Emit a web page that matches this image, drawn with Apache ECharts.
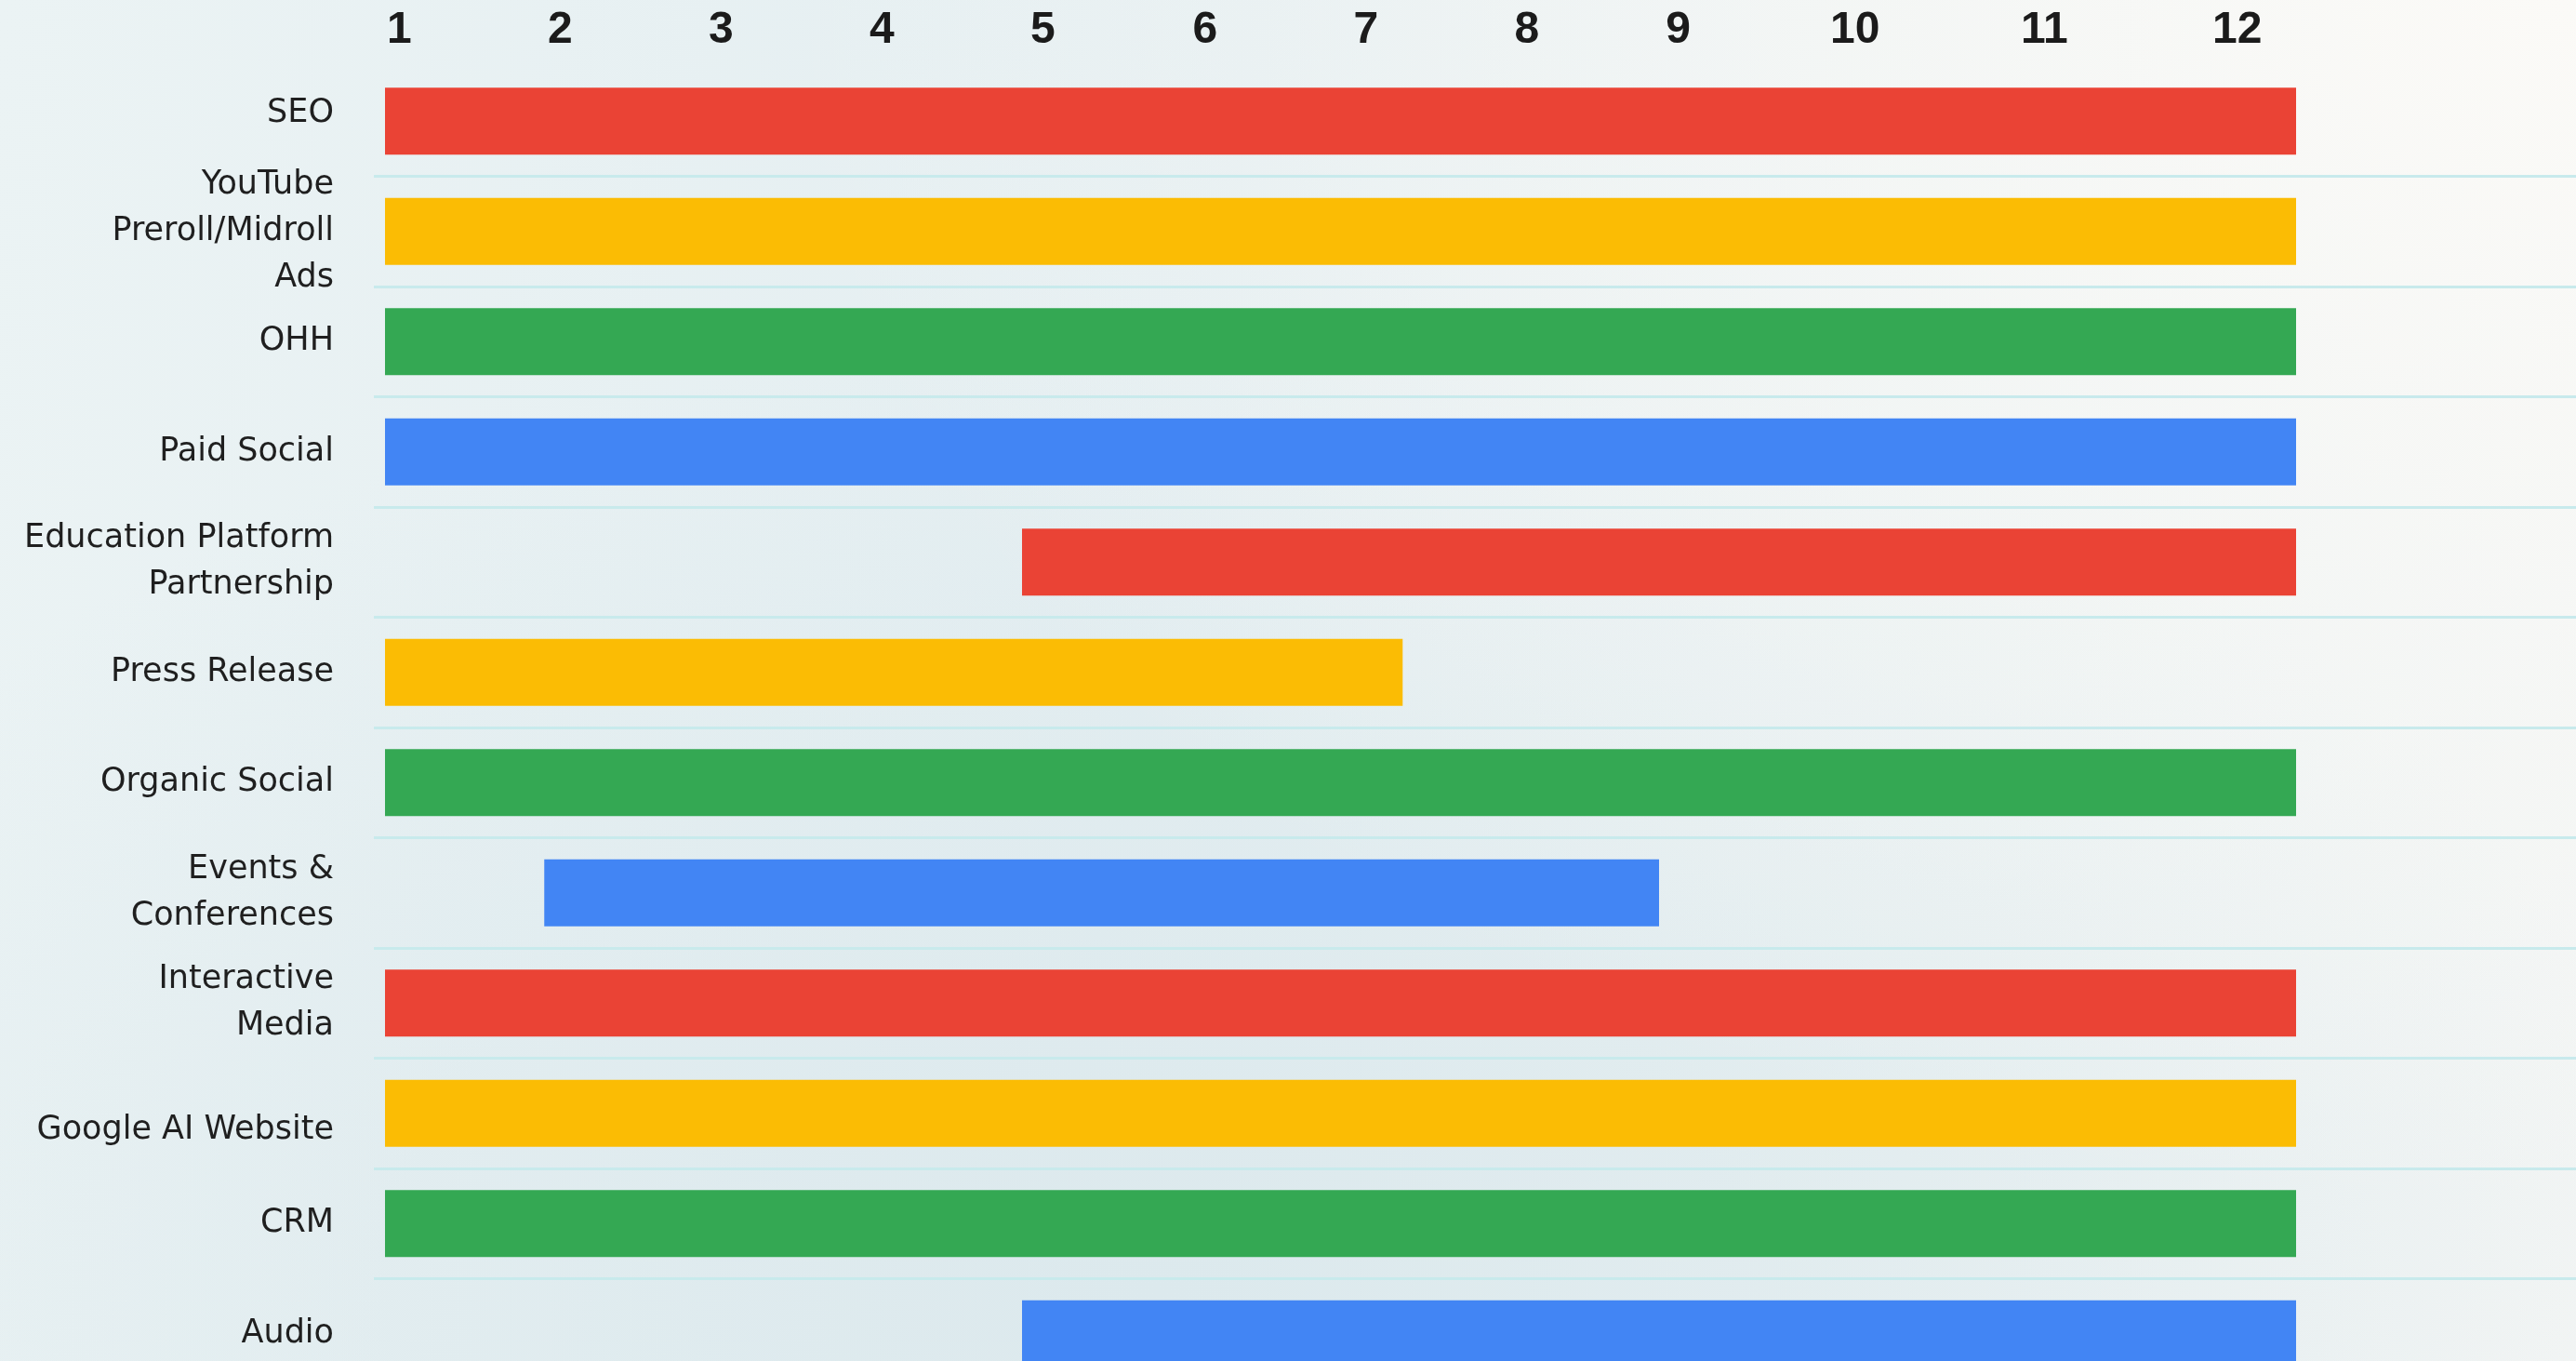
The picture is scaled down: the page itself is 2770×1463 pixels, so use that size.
<!DOCTYPE html>
<html>
<head>
<meta charset="utf-8">
<title>Channel Timeline</title>
<script src="https://cdn.jsdelivr.net/npm/echarts@6/dist/echarts.min.js"></script>
<style>
  html, body { margin: 0; padding: 0; }
  body {
    width: 2770px; height: 1463px; overflow: hidden;
    background:
      radial-gradient(ellipse 70% 90% at 100% 0%, rgba(251,250,247,1) 0%, rgba(251,250,247,0) 100%),
      radial-gradient(ellipse 60% 70% at 45% 95%, rgba(220,233,237,1) 0%, rgba(220,233,237,0) 100%),
      linear-gradient(100deg, #ebf3f4 0%, #e4eef1 45%, #eaf1f2 75%, #f3f5f4 100%);
  }
  #chart { width: 2770px; height: 1463px; }
</style>
</head>
<body>
<div id="chart"></div>
<script>
// Marketing channels, one row each (top to bottom)
const channels = [
  'SEO',
  'YouTube\nPreroll/Midroll\nAds',
  'OHH',
  'Paid Social',
  'Education Platform\nPartnership',
  'Press Release',
  'Organic Social',
  'Events &\nConferences',
  'Interactive\nMedia',
  'Google AI Website',
  'CRM',
  'Audio'
];

// Activity span in months: start of the bar and end of the bar (13 = end of month 12)
const barStart = [1, 1, 1, 1, 5, 1, 1, 2, 1, 1, 1, 5];
const barEnd   = [13, 13, 13, 13, 13, 7.39, 13, 9, 13, 13, 13, 13];

// Month labels along the top and the month value each one sits at
const monthLabels = ['1', '2', '3', '4', '5', '6', '7', '8', '9', '10', '11', '12'];
const monthTickAt = [1.09, 2.1, 3.11, 4.12, 5.13, 6.15, 7.16, 8.17, 9.12, 10.23, 11.42, 12.63];

const palette = ['#EA4335', '#FBBC04', '#34A853', '#4285F4'];

const chart = echarts.init(document.getElementById('chart'), null, { renderer: 'canvas' });

const barData = channels.map((name, i) => [i, barStart[i], barEnd[i]]);
const BAR_THICKNESS = 72;

const rowLabelStyle = {
  fontFamily: '"DejaVu Sans", sans-serif',
  fontSize: 35,
  lineHeight: 50,
  color: '#1f1f1f'
};

chart.setOption({
  backgroundColor: 'transparent',
  animation: false,
  grid: [
    // row separators
    { left: 402, right: 0, top: 71, height: 1422, outerBoundsMode: 'none', containLabel: false },
    // bars
    { left: 414, right: 301, top: 71, height: 1422, outerBoundsMode: 'none', containLabel: false }
  ],
  xAxis: [
    { gridIndex: 0, type: 'value', min: 0, max: 1, show: false },
    {
      gridIndex: 1,
      type: 'value',
      position: 'top',
      min: 1,
      max: 13,
      axisLine: { show: false },
      axisTick: { show: false },
      splitLine: { show: false },
      axisLabel: {
        customValues: monthTickAt,
        margin: 38,
        verticalAlign: 'middle',
        align: 'center',
        fontFamily: '"Liberation Sans", Arial, sans-serif',
        fontWeight: 'bold',
        fontSize: 48,
        color: '#1b1b1b',
        formatter: function (v) {
          let best = 0;
          monthTickAt.forEach((t, k) => {
            if (Math.abs(t - v) < Math.abs(monthTickAt[best] - v)) best = k;
          });
          return monthLabels[best];
        }
      }
    }
  ],
  yAxis: [
    {
      gridIndex: 0,
      type: 'category',
      data: channels,
      inverse: true,
      axisLine: { show: false },
      axisTick: { show: false },
      axisLabel: { show: false },
      splitLine: {
        show: true,
        showMinLine: false,
        lineStyle: { color: '#c8eaec', width: 3 }
      }
    },
    {
      gridIndex: 1,
      type: 'category',
      data: channels,
      inverse: true,
      axisLine: { show: false },
      axisTick: { show: false },
      splitLine: { show: false },
      axisLabel: Object.assign({
        margin: 55,
        align: 'right',
        // a couple of row labels sit a little off the bar centre line
        formatter: function (name) {
          if (name === 'SEO') return '{up|' + name + '}';
          if (name === 'Google AI Website') return '{down|' + name + '}';
          return name;
        },
        rich: {
          up: Object.assign({ padding: [0, 0, 16, 0] }, rowLabelStyle),
          down: Object.assign({ padding: [36, 0, 0, 0] }, rowLabelStyle)
        }
      }, rowLabelStyle)
    }
  ],
  series: [
    {
      type: 'custom',
      xAxisIndex: 1,
      yAxisIndex: 1,
      encode: { x: [1, 2], y: 0 },
      data: barData,
      renderItem: function (params, api) {
        const row = api.value(0);
        const a = api.coord([api.value(1), row]);
        const b = api.coord([api.value(2), row]);
        return {
          type: 'rect',
          shape: {
            x: a[0],
            y: a[1] - BAR_THICKNESS / 2,
            width: b[0] - a[0],
            height: BAR_THICKNESS
          },
          style: { fill: palette[row % palette.length] }
        };
      }
    }
  ]
});
</script>
</body>
</html>
